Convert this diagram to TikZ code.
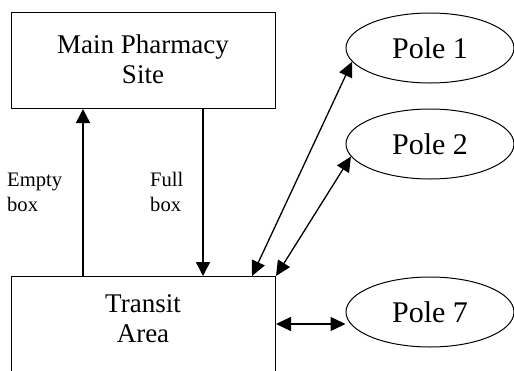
\documentclass[tikz,border=0pt]{standalone}
\usepackage{fontspec}
\setmainfont{Liberation Serif}
\usetikzlibrary{arrows.meta,shapes.geometric,calc}
\begin{document}
\begin{tikzpicture}[x=1pt,y=-1pt,
  boxnode/.style={draw, line width=1pt, rectangle, inner sep=0pt},
  bigtext/.style={font=\fontsize{27}{30}\selectfont, align=center, inner sep=0pt},
  poletext/.style={draw, line width=1pt, ellipse, minimum width=168pt, minimum height=70pt, inner sep=0pt, font=\fontsize{30}{33}\selectfont},
  smalltext/.style={font=\fontsize{20.6}{25}\selectfont, align=left, inner sep=0pt},
  vflow/.style={line width=1.5pt, -{Triangle[length=14pt,width=14pt]}},
  dflow/.style={line width=1.3pt, {Triangle[length=15pt,width=14pt]}-{Triangle[length=15pt,width=14pt]}}]
\useasboundingbox (0,0) rectangle (514,370);
\node[boxnode, minimum width=264pt, minimum height=96pt, anchor=north west] (main) at (11,12) {};
\node[bigtext] (maintext) at (143,59) {Main Pharmacy\\Site};
\node[boxnode, minimum width=264pt, minimum height=130pt, anchor=north west] (transit) at (11,276) {};
\node[bigtext] (transittext) at (143,319) {Transit\\Area};
\node[poletext] (pole1) at (430,48) {Pole 1};
\node[poletext] (pole2) at (430,144) {Pole 2};
\node[poletext] (pole7) at (430,312) {Pole 7};
\node[smalltext, anchor=west] (empty) at (7,192) {Empty\\box};
\node[smalltext, anchor=west] (full) at (150,192) {Full\\box};
\coordinate (e1) at (transit.north west -| 83,0);
\coordinate (e2) at (main.south west -| 83,0);
\coordinate (f1) at (main.south west -| 203,0);
\coordinate (f2) at (transit.north west -| 203,0);
\coordinate (p1) at (transit.north west -| 252,0);
\coordinate (p7) at ($(transit.north east)+(0,48)$);
\draw[vflow] (e1) -- (e2);
\draw[vflow] (f1) -- (f2);
\draw[dflow] (p1) -- (pole1.190);
\draw[dflow] (transit.north east) -- (pole2.189);
\draw[dflow] (p7) -- (p7 -| pole7.west);
\end{tikzpicture}
\end{document}
